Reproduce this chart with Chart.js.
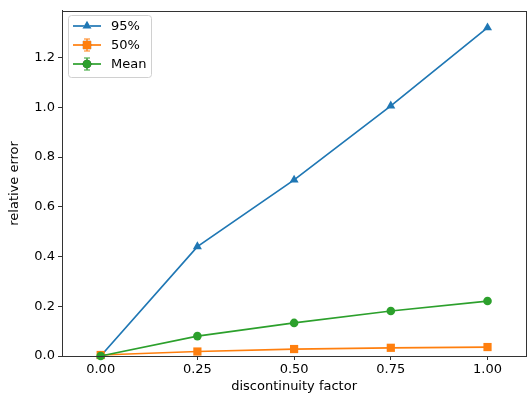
<!DOCTYPE html>
<html>
<head>
<meta charset="utf-8">
<script src="https://cdn.jsdelivr.net/npm/chart.js@4/dist/chart.umd.min.js"></script>
<style>
  html, body { margin: 0; padding: 0; background: #fff; overflow: hidden; }
  #wrap { width: 532px; height: 398px; }
</style>
</head>
<body>
<div id="wrap"><canvas id="errChart"></canvas></div>
<script>
// ========== Data ==========
const factors = [0.0, 0.25, 0.5, 0.75, 1.0];
const p95 = [0.0, 0.44, 0.708, 1.006, 1.32];
const p50 = [0.004, 0.018, 0.028, 0.033, 0.036];
const meanErr = [0.0, 0.08, 0.133, 0.181, 0.221];
const xTicks = [0, 0.25, 0.5, 0.75, 1.0];
const yTicks = [0, 0.2, 0.4, 0.6, 0.8, 1.0, 1.2];
const seriesNames = ['95%', '50%', 'Mean'];

const FONT = 'DejaVu Sans';
const FSIZE = 13;
const colors = ['#1f77b4', '#ff7f0e', '#2ca02c'];
const styles = ['triangle', 'rect', 'circle'];
const radii = [5.2, 5.8, 4.3];

function toPoints(vals) {
    return factors.map((f, i) => ({ x: f, y: vals[i] }));
}

// ========== Frame + legend ==========
const framePlugin = {
    id: 'frame',
    afterDraw(chart) {
        const { ctx, chartArea: a } = chart;
        ctx.save();
        ctx.strokeStyle = '#333';
        ctx.lineWidth = 1;
        ctx.strokeRect(Math.round(a.left) + 0.5, Math.round(a.top) + 0.5,
            Math.round(a.right - a.left), Math.round(a.bottom - a.top));

        // legend box
        const bx = 68.5, by = 15.5, bw = 83, bh = 62;
        ctx.fillStyle = 'rgba(255,255,255,0.8)';
        ctx.strokeStyle = '#d0d0d0';
        ctx.beginPath();
        ctx.roundRect(bx, by, bw, bh, 3);
        ctx.fill();
        ctx.stroke();

        const rows = [26, 45, 64];
        seriesNames.forEach((name, i) => {
            const y = rows[i];
            ctx.strokeStyle = colors[i];
            ctx.lineWidth = 1.7;
            ctx.beginPath();
            ctx.moveTo(73, y);
            ctx.lineTo(101, y);
            ctx.stroke();
            if (i > 0) {
                // error bar glyph
                ctx.lineWidth = 1.2;
                ctx.beginPath();
                ctx.moveTo(87, y - 6); ctx.lineTo(87, y + 6);
                ctx.moveTo(84, y - 6); ctx.lineTo(90, y - 6);
                ctx.moveTo(84, y + 6); ctx.lineTo(90, y + 6);
                ctx.stroke();
            }
            Chart.helpers.drawPoint(ctx, {
                pointStyle: styles[i], radius: radii[i], borderWidth: 0, rotation: 0
            }, 87, y);
            ctx.fillStyle = colors[i];
            ctx.fill();
            ctx.fillStyle = '#000';
            ctx.font = FSIZE + 'px "' + FONT + '"';
            ctx.textBaseline = 'middle';
            ctx.textAlign = 'left';
            ctx.fillText(name, 111, y + 1);
        });
        ctx.restore();
    }
};

// ========== Chart ==========
function generateChart() {
    const ctx = document.getElementById('errChart').getContext('2d');
    const vals = [p95, p50, meanErr];
    new Chart(ctx, {
        type: 'line',
        data: {
            datasets: seriesNames.map((name, i) => ({
                label: name,
                data: toPoints(vals[i]),
                borderColor: colors[i],
                backgroundColor: colors[i],
                pointStyle: styles[i],
                pointRadius: radii[i],
                pointBorderWidth: 0,
                borderWidth: 1.7,
                tension: 0,
                clip: false
            })).reverse()
        },
        plugins: [framePlugin],
        options: {
            responsive: false,
            animation: false,
            devicePixelRatio: 1,
            layout: { padding: { left: 0, top: 9, right: 3, bottom: 0 } },
            plugins: { legend: { display: false }, tooltip: { enabled: false } },
            scales: {
                x: {
                    type: 'linear', min: -0.1, max: 1.1,
                    afterBuildTicks: s => { s.ticks = xTicks.map(v => ({ value: v })); },
                    afterFit: s => { s.height = 42; },
                    ticks: {
                        color: '#000', font: { family: FONT, size: FSIZE }, padding: 2,
                        maxRotation: 0, autoSkip: false,
                        callback: v => Number(v).toFixed(2)
                    },
                    grid: { drawOnChartArea: false, tickLength: 4, color: '#333' },
                    border: { color: '#333' },
                    title: {
                        display: true, text: 'discontinuity factor', color: '#000',
                        font: { family: FONT, size: FSIZE }, padding: { top: 2, bottom: 4 }
                    }
                },
                y: {
                    min: 0, max: 1.388,
                    afterBuildTicks: s => { s.ticks = yTicks.map(v => ({ value: v })); },
                    afterFit: s => { s.width = 62; },
                    ticks: {
                        color: '#000', font: { family: FONT, size: FSIZE }, padding: 3,
                        autoSkip: false,
                        callback: v => Number(v).toFixed(1)
                    },
                    grid: { drawOnChartArea: false, tickLength: 4, color: '#333' },
                    border: { color: '#333' },
                    title: {
                        display: true, text: 'relative error', color: '#000',
                        font: { family: FONT, size: FSIZE }, padding: { top: 7, bottom: 4 }
                    }
                }
            }
        }
    });
}

document.getElementById('errChart').width = 532;
document.getElementById('errChart').height = 398;
generateChart();
</script>
</body>
</html>
